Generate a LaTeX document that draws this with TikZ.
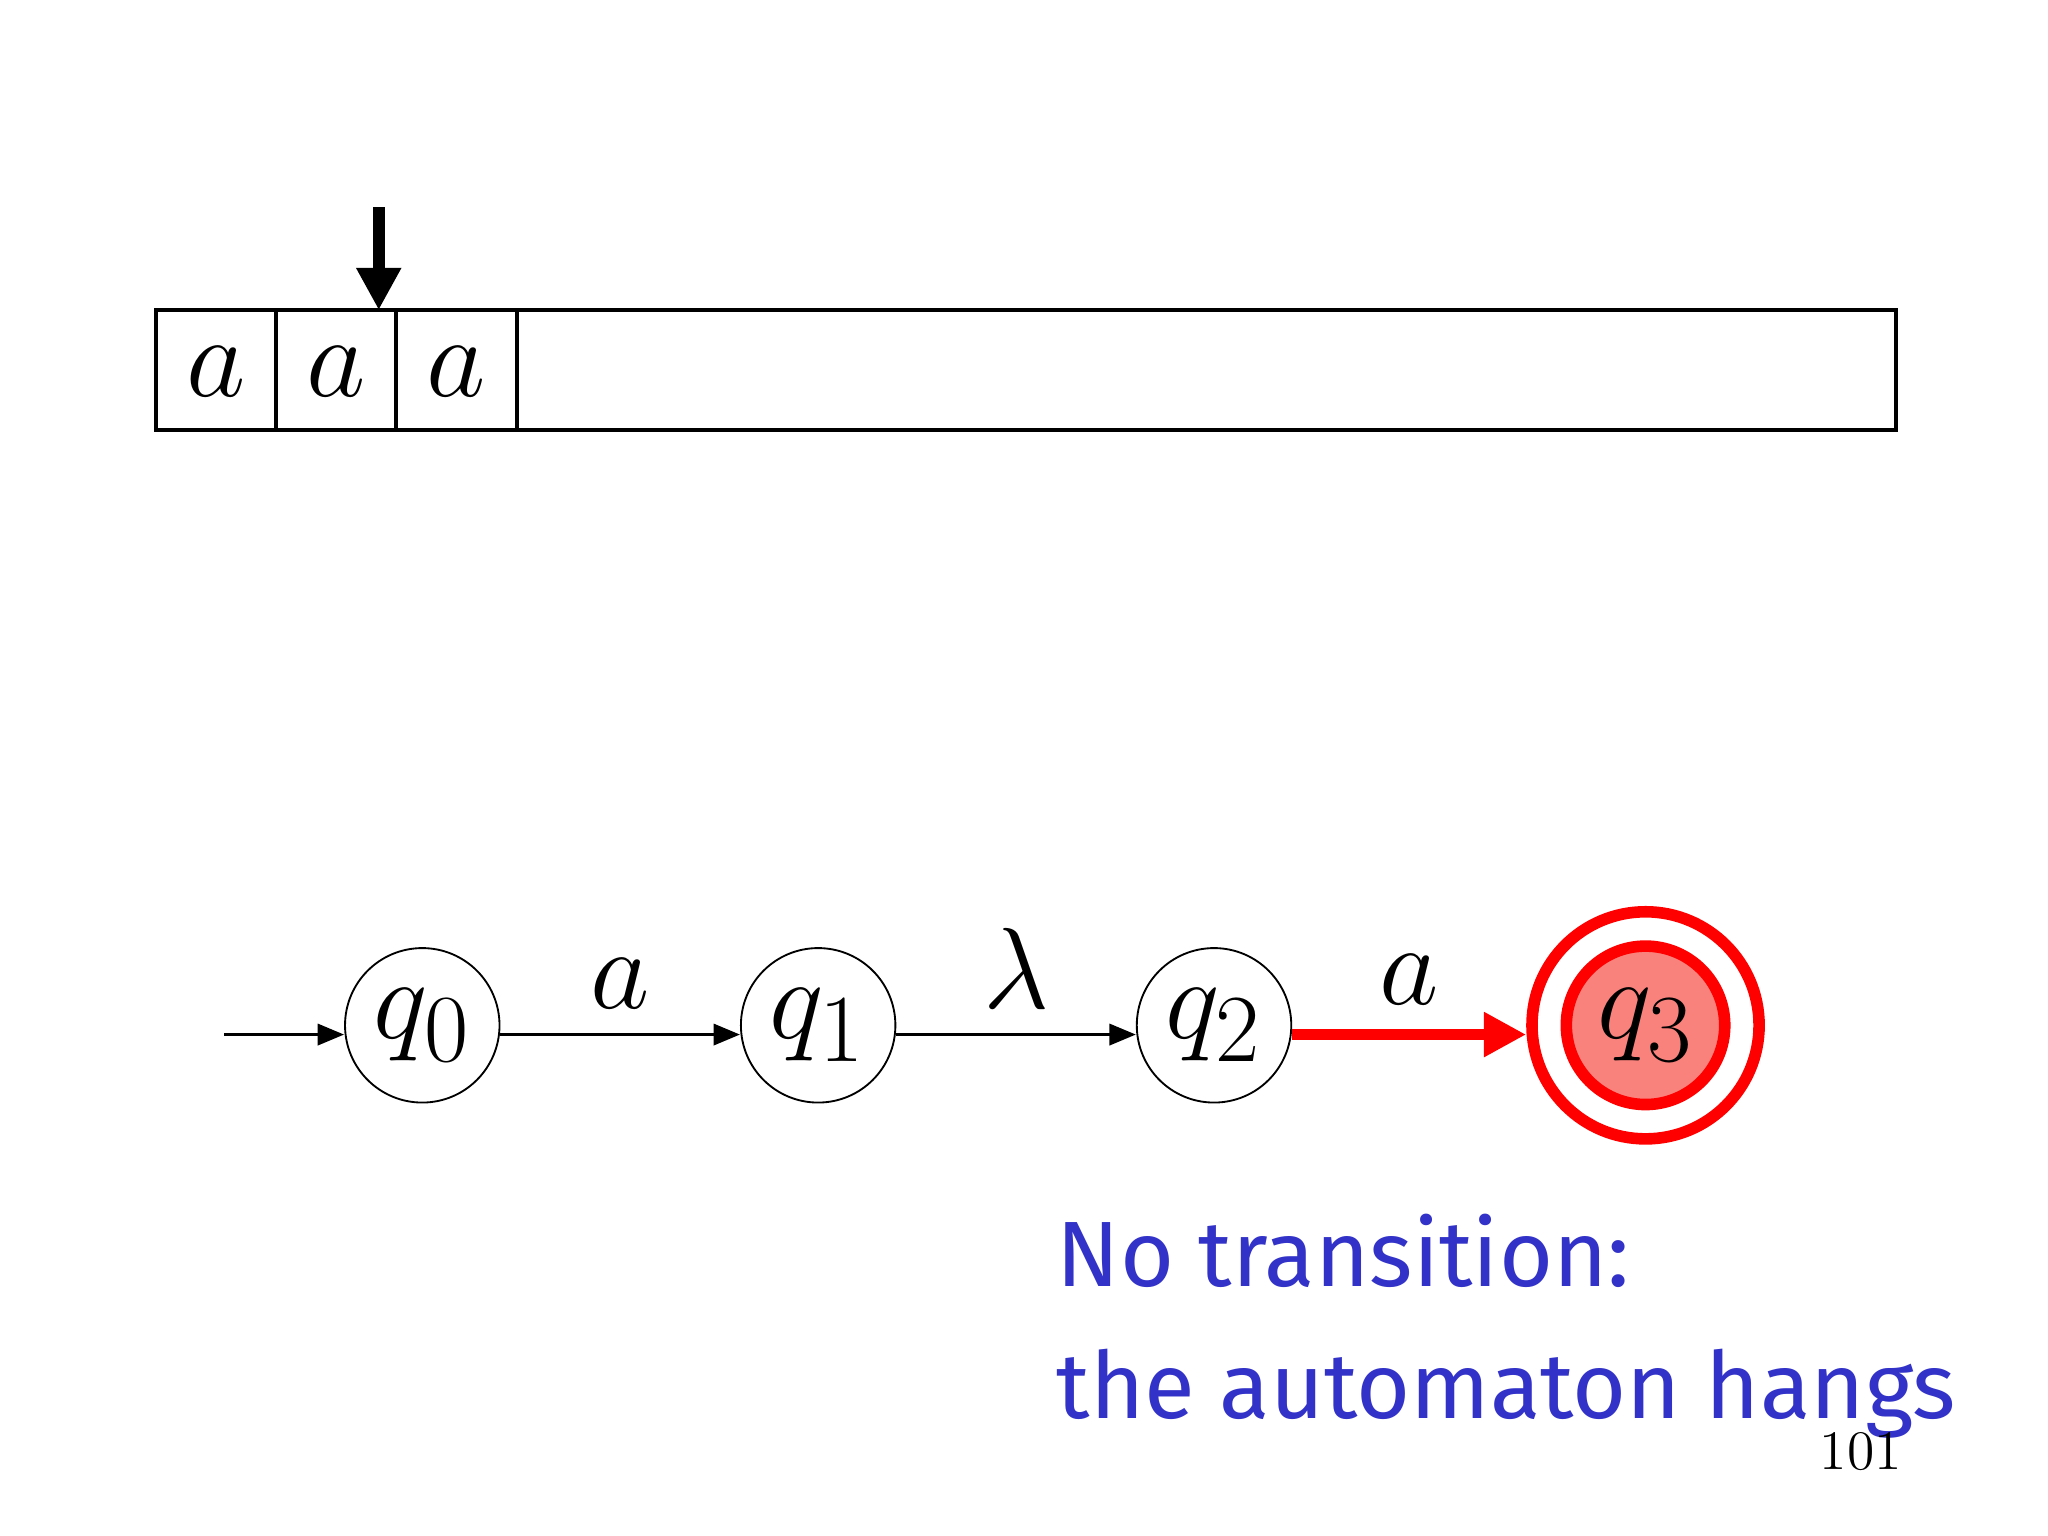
\documentclass[tikz,border=0pt]{standalone}
\usepackage{fontspec}
\newfontfamily\handfont{Fira Sans}
\usetikzlibrary{arrows.meta}
\definecolor{txtblue}{RGB}{50,50,200}
\definecolor{salmon}{RGB}{250,130,125}
\tikzset{
  px/.style={x=0.01cm,y=-0.01cm},
  st/.style={circle,draw,minimum size=1.17cm,inner sep=0pt,font=\fontsize{30}{30}\selectfont},
  tr/.style={-{Triangle[length=0.2cm,width=0.16cm]},line width=0.7pt},
  lbl/.style={font=\fontsize{30}{30}\selectfont},
  cell/.style={font=\fontsize{30}{30}\selectfont}
}
\begin{document}
\begin{tikzpicture}[px]
\useasboundingbox (0,0) rectangle (1552,1164);
% tape
\draw[line width=0.8pt] (118,235) rectangle (1437,326);
\foreach \x in {209,300,392} \draw[line width=0.8pt] (\x,235) -- (\x,326);
\node[cell] (c1) at (164,282) {$a$};
\node[cell] (c2) at (255,282) {$a$};
\node[cell] (c3) at (346,282) {$a$};
\coordinate (hs) at (287,157);
\coordinate (he) at (287,235);
\draw[-{Triangle[length=0.32cm,width=0.32cm]},line width=2.5pt] (hs) -- (he);
% states
\node[st] (q0) at (320,777) {$q_0$};
\node[st] (q1) at (620,777) {$q_1$};
\node[st] (q2) at (920,777) {$q_2$};
\node[circle,draw=red,fill=salmon,line width=2.5pt,minimum size=1.2cm,inner sep=0pt,font=\fontsize{30}{30}\selectfont] (q3) at (1247,777) {$q_3$};
\node[circle,draw=red,line width=2.5pt,minimum size=1.72cm] (q3o) at (1247,777) {};
\coordinate (s) at (170,784);
\draw[tr] (s) -- (q0.west |- s);
\draw[tr] (q0.east |- s) -- node[lbl,above=2pt] {$a$} (q1.west |- s);
\draw[tr] (q1.east |- s) -- node[lbl,above=2pt] {$\lambda$} (q2.west |- s);
\draw[-{Triangle[length=0.32cm,width=0.32cm]},red,line width=2.5pt] (q2.east |- s) -- node[lbl,above=2pt,black] {$a$} (q3o.west |- s);
% text
\node[anchor=base west,txtblue,font=\handfont\fontsize{20}{20}\selectfont,inner sep=0pt] (t1) at (800,975) {No transition:};
\node[anchor=base west,txtblue,font=\handfont\fontsize{20}{20}\selectfont,inner sep=0pt] (t2) at (800,1075) {the automaton hangs};
\node[font=\fontsize{12}{12}\selectfont] (pg) at (1410,1100) {101};
\end{tikzpicture}
\end{document}
